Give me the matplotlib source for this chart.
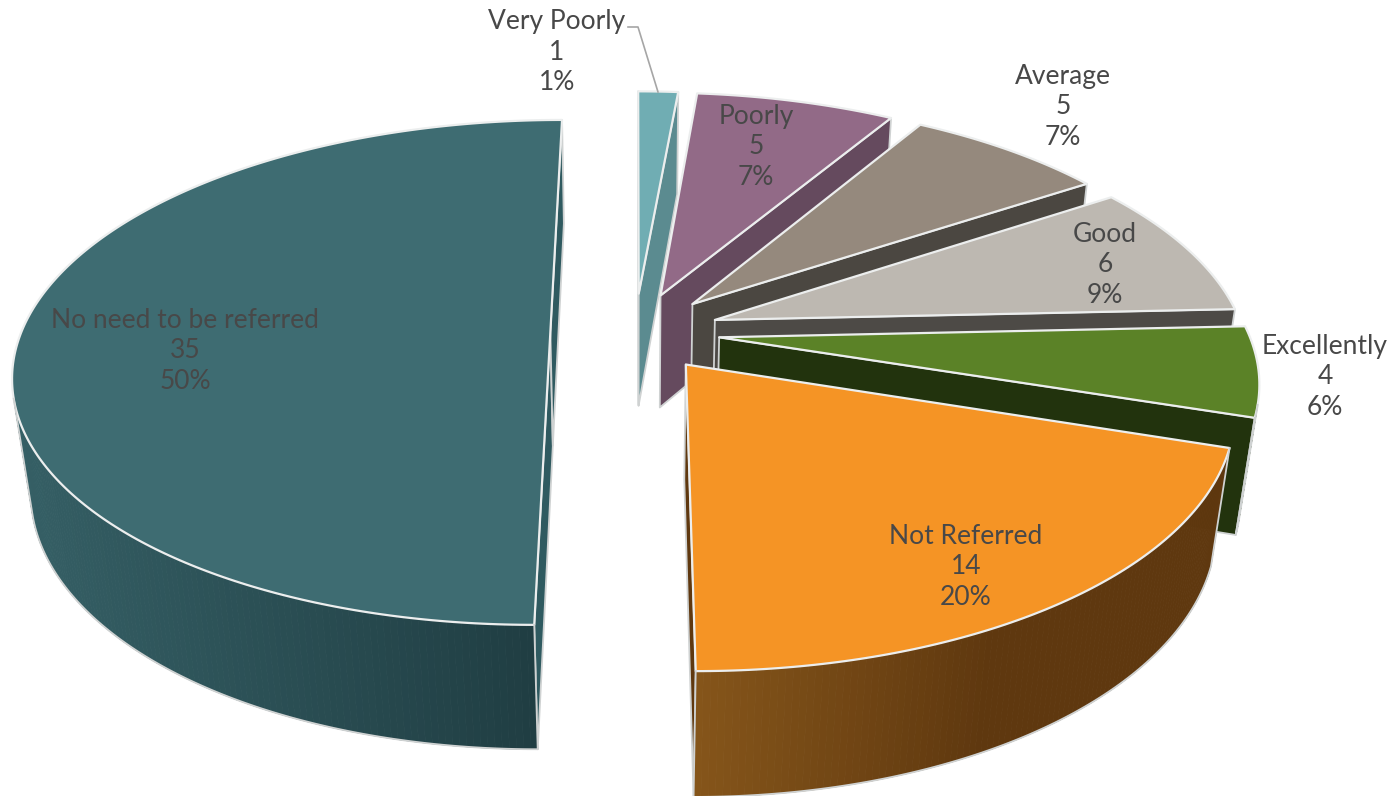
import numpy as np
import matplotlib
matplotlib.use("Agg")
import matplotlib.pyplot as plt
from matplotlib.patches import Polygon
from matplotlib.colors import to_rgb

categories = ["Very Poorly", "Poorly", "Average", "Good", "Excellently", "Not Referred", "No need to be referred"]
values = [1, 5, 5, 6, 4, 14, 35]

top_colors = ["#70adb3", "#926a87", "#95897d", "#bdb8b1", "#5b8227", "#f59425", "#3e6c72"]
cut_colors = ["#5b8b90", "#654a5e", "#4b4741", "#4d4a46", "#22330d", "#5f380f", "#2f5a60"]
wall_left = ["#5b8b90", "#654a5e", "#4b4741", "#4d4a46", "#22330d", "#85551a", "#355f65"]
wall_right = ["#5b8b90", "#654a5e", "#4b4741", "#4d4a46", "#22330d", "#5f380f", "#203e43"]
label_centers = [(557, 52), (756, 147), (1063, 107), (1105, 265), (1325, 377), (966, 567), (185, 351)]

# projection of the tilted 3-D pie onto the image, in pixels
CX, CY, AX, AY, DEPTH = 635.0, 332.0, 529.0, 246.0, 117.0
PERSP, PERSP_Z, EXPLODE = 0.16, 0.03, 0.16
FONT = "Lato"
FS = 19.0

def project(x, y, z):
    w = 1 - PERSP * y + PERSP_Z * z
    return np.column_stack([CX + AX * x / w, CY + (AY * y + DEPTH * z) / w])

def area(p):
    x, y = p[:, 0], p[:, 1]
    return 0.5 * np.sum(x * np.roll(y, -1) - np.roll(x, -1) * y)

fig = plt.figure(figsize=(13.93, 7.96), dpi=100)
ax = fig.add_axes([0, 0, 1, 1])
ax.set_xlim(0, 1393)
ax.set_ylim(796, 0)
ax.axis("off")

total = sum(values)
cum = np.cumsum([0] + values) / total * 2 * np.pi
EDGE_TOP = "#eceeee"
EDGE_OUT = "#cfd2d2"

for i, name in enumerate(categories):
    a0, a1 = cum[i], cum[i + 1]
    mid = (a0 + a1) / 2
    ex, ey = EXPLODE * np.sin(mid), -EXPLODE * np.cos(mid)
    th = np.linspace(a0, a1, max(6, int(np.degrees(a1 - a0) * 1.5)))
    rx, ry = ex + np.sin(th), ey - np.cos(th)
    top_rim = project(rx, ry, 0 * th)
    bot_rim = project(rx, ry, 0 * th + 1)
    apex_t = project(np.array([ex]), np.array([ey]), np.array([0.0]))
    apex_b = project(np.array([ex]), np.array([ey]), np.array([1.0]))

    # cut faces
    for rim_t, rim_b, want in ((top_rim[0], bot_rim[0], -1), (top_rim[-1], bot_rim[-1], 1)):
        q = np.array([apex_t[0], rim_t, rim_b, apex_b[0]])
        if np.sign(area(q)) == want:
            ax.add_patch(Polygon(q, closed=True, fc=cut_colors[i], ec=EDGE_OUT, lw=1.3, joinstyle="round"))

    # outer wall, shaded strip by strip
    vis = []
    for k in range(len(th) - 1):
        q = np.array([top_rim[k], top_rim[k + 1], bot_rim[k + 1], bot_rim[k]])
        if area(q) < 0:
            vis.append((k, q))
    if vis:
        xs = np.array([q[:, 0].mean() for _, q in vis])
        span = max(xs.max() - xs.min(), 1)
        c0, c1 = np.array(to_rgb(wall_left[i])), np.array(to_rgb(wall_right[i]))
        for (k, q), xm in zip(vis, xs):
            t = min(1.0, (xm - xs.min()) / (span * (0.55 if i == 5 else 1.0)))
            c = c0 + (c1 - c0) * t
            ax.add_patch(Polygon(q, closed=True, fc=c, ec=c, lw=0.6))
        idx = [k for k, _ in vis]
        k0, k1 = idx[0], idx[-1] + 1
        line = np.vstack([top_rim[k0], bot_rim[k0:k1 + 1], top_rim[k1]])
        ax.plot(line[:, 0], line[:, 1], color=EDGE_OUT, lw=1.3, solid_joinstyle="round")

    # top face
    poly = np.vstack([apex_t, top_rim])
    ax.add_patch(Polygon(poly, closed=True, fc=top_colors[i], ec=EDGE_TOP, lw=1.6, joinstyle="round"))

ax.plot([628, 638, 658], [27, 27, 92], color="#a6a6a6", lw=1.2, zorder=6)

for name, val, (lx, ly) in zip(categories, values, label_centers):
    pct = round(val / total * 100)
    ax.text(lx, ly, f"{name}\n{val}\n{pct}%", ha="center", va="center", family=FONT,
            fontsize=FS, color="#484848", linespacing=1.26, zorder=7)

fig.savefig("out.png", dpi=100)
